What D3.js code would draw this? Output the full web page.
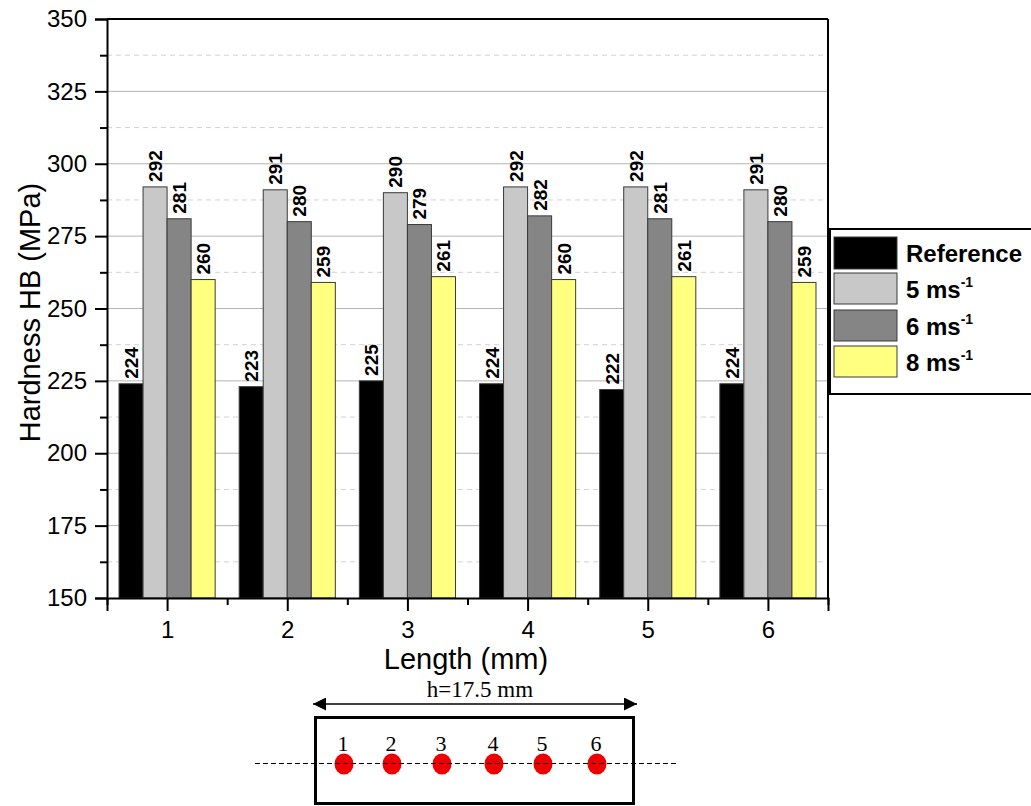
<!DOCTYPE html>
<html>
<head>
<meta charset="utf-8">
<script src="https://cdn.jsdelivr.net/npm/d3@7"></script>
<style>
  html, body { margin: 0; padding: 0; background: #fff; }
  svg { display: block; font-family: Arial, "Liberation Sans", sans-serif; }
</style>
</head>
<body>
<svg id="chart" width="1031" height="806"></svg>
<script>
// Hardness measured at six positions along the specimen
const positions = [1, 2, 3, 4, 5, 6];
const seriesNames = ["Reference", "5 ms", "6 ms", "8 ms"];
const referenceValues = [224, 223, 225, 224, 222, 224];
const speed5Values = [292, 291, 290, 292, 292, 291];
const speed6Values = [281, 280, 279, 282, 281, 280];
const speed8Values = [260, 259, 261, 260, 261, 259];
const yTicks = [150, 175, 200, 225, 250, 275, 300, 325, 350];
const seriesColors = ["#000000", "#c8c8c8", "#858585", "#ffff80"];

const allSeries = [referenceValues, speed5Values, speed6Values, speed8Values];

const svg = d3.select("#chart");
const plot = { left: 107, right: 828, top: 19, bottom: 598 };

const x = d3.scaleLinear().domain([0.5, 6.5]).range([plot.left, plot.right]);
const y = d3.scaleLinear().domain([150, 350]).range([plot.bottom, plot.top]);
const barW = 0.2;

// grid lines: solid at major ticks, dashed at half steps
const minorY = d3.range(162.5, 350, 25);
svg.append("g").selectAll("line").data(yTicks.filter(v => v > 150 && v < 350)).join("line")
  .attr("x1", plot.left).attr("x2", plot.right)
  .attr("y1", d => y(d)).attr("y2", d => y(d))
  .attr("stroke", "#b4b4b4").attr("stroke-width", 1);
svg.append("g").selectAll("line").data(minorY).join("line")
  .attr("x1", plot.left).attr("x2", plot.right)
  .attr("y1", d => y(d)).attr("y2", d => y(d))
  .attr("stroke", "#d2d2d2").attr("stroke-width", 1).attr("stroke-dasharray", "5,4");

// bars with rotated value labels
const bars = svg.append("g");
allSeries.forEach((vals, s) => {
  bars.selectAll(null).data(vals).join("rect")
    .attr("x", (d, i) => x(positions[i] - 0.4 + s * barW))
    .attr("width", x(barW) - x(0))
    .attr("y", d => y(d))
    .attr("height", d => y(150) - y(d))
    .attr("fill", seriesColors[s])
    .attr("stroke", "#3a3a3a").attr("stroke-width", 1);
  bars.selectAll(null).data(vals).join("text")
    .attr("transform", (d, i) => {
      const cx = x(positions[i] - 0.4 + s * barW + barW / 2);
      return `translate(${cx + 7},${y(d) - 5}) rotate(-90)`;
    })
    .attr("font-size", 19).attr("font-weight", "bold").attr("fill", "#000")
    .text(d => d);
});

// frame
svg.append("line").attr("x1", plot.left).attr("x2", plot.right).attr("y1", plot.top).attr("y2", plot.top)
  .attr("stroke", "#000").attr("stroke-width", 2);
svg.append("line").attr("x1", plot.right).attr("x2", plot.right).attr("y1", plot.top).attr("y2", plot.bottom)
  .attr("stroke", "#000").attr("stroke-width", 2);

// y axis
const yAxis = svg.append("g").attr("transform", `translate(${plot.left},0)`)
  .call(d3.axisLeft(y).tickValues(yTicks).tickSize(12).tickPadding(8).tickFormat(d3.format("d")));
yAxis.select(".domain").attr("stroke-width", 2);
yAxis.selectAll(".tick line").attr("stroke-width", 2);
yAxis.selectAll("text").attr("font-size", 24).attr("fill", "#000").attr("font-family", "Arial, 'Liberation Sans', sans-serif");
const yMinor = svg.append("g").attr("transform", `translate(${plot.left},0)`)
  .call(d3.axisLeft(y).tickValues(minorY).tickSize(7).tickFormat(""));
yMinor.select(".domain").remove();
yMinor.selectAll(".tick line").attr("stroke-width", 2);

// x axis
const xAxis = svg.append("g").attr("transform", `translate(0,${plot.bottom})`)
  .call(d3.axisBottom(x).tickValues(positions).tickSize(13).tickPadding(10).tickFormat(d3.format("d")));
xAxis.select(".domain").attr("stroke-width", 2);
xAxis.selectAll(".tick line").attr("stroke-width", 2);
xAxis.selectAll("text").attr("font-size", 24).attr("fill", "#000").attr("font-family", "Arial, 'Liberation Sans', sans-serif");
const xMinor = svg.append("g").attr("transform", `translate(0,${plot.bottom})`)
  .call(d3.axisBottom(x).tickValues(d3.range(0.5, 7, 1)).tickSize(7).tickFormat(""));
xMinor.select(".domain").remove();
xMinor.selectAll(".tick line").attr("stroke-width", 2);

// axis titles
svg.append("text").attr("transform", `translate(40,${(plot.top + plot.bottom) / 2 + 4}) rotate(-90)`)
  .attr("text-anchor", "middle").attr("font-size", 29).text("Hardness HB (MPa)");
svg.append("text").attr("x", 466).attr("y", 669)
  .attr("text-anchor", "middle").attr("font-size", 29).text("Length (mm)");

// legend
const legend = svg.append("g");
legend.append("rect").attr("x", 830).attr("y", 229).attr("width", 210).attr("height", 165)
  .attr("fill", "#fff").attr("stroke", "#000").attr("stroke-width", 2);
const swatchTops = [237, 273, 310, 346];
seriesNames.forEach((name, i) => {
  const top = swatchTops[i];
  legend.append("rect").attr("x", 834).attr("y", top).attr("width", 63).attr("height", i === 0 ? 32 : 31)
    .attr("fill", seriesColors[i]).attr("stroke", "#3a3a3a").attr("stroke-width", 1);
  const t = legend.append("text").attr("x", 906).attr("y", top + 25)
    .attr("font-size", 24).attr("font-weight", "bold").text(name);
  if (i > 0) {
    t.append("tspan").attr("font-size", 14).attr("dy", -11).text("-1");
  }
});

// specimen sketch with measurement points
const sketch = svg.append("g").attr("font-family", "'Liberation Serif', 'DejaVu Serif', serif");
const pointXs = [344, 392, 442, 494, 543, 597];
sketch.append("text").attr("x", 480).attr("y", 697).attr("text-anchor", "middle")
  .attr("font-size", 23).text("h=17.5 mm");
const defs = svg.append("defs");
defs.append("marker").attr("id", "arr").attr("viewBox", "0 0 10 10").attr("refX", 10).attr("refY", 5)
  .attr("markerWidth", 15).attr("markerHeight", 13).attr("markerUnits", "userSpaceOnUse").attr("orient", "auto-start-reverse")
  .append("path").attr("d", "M0,0 L10,5 L0,10 Z").attr("fill", "#000");
sketch.append("line").attr("x1", 313).attr("x2", 637).attr("y1", 704).attr("y2", 704)
  .attr("stroke", "#000").attr("stroke-width", 1.5)
  .attr("marker-start", "url(#arr)").attr("marker-end", "url(#arr)");
sketch.append("rect").attr("x", 315.5).attr("y", 717.5).attr("width", 318).attr("height", 86)
  .attr("fill", "none").attr("stroke", "#000").attr("stroke-width", 3);
sketch.selectAll("ellipse").data(positions).join("ellipse")
  .attr("cx", (d, i) => pointXs[i]).attr("cy", 764).attr("rx", 9.5).attr("ry", 10.5).attr("fill", "#ee0000");
sketch.append("line").attr("x1", 255).attr("x2", 678).attr("y1", 763.5).attr("y2", 763.5)
  .attr("stroke", "#000").attr("stroke-width", 1.2).attr("stroke-dasharray", "5,3");
sketch.selectAll("text.num").data(positions).join("text").attr("class", "num")
  .attr("x", (d, i) => pointXs[i] - 1).attr("y", 751).attr("text-anchor", "middle")
  .attr("font-size", 22).text(d => d);
</script>
</body>
</html>
